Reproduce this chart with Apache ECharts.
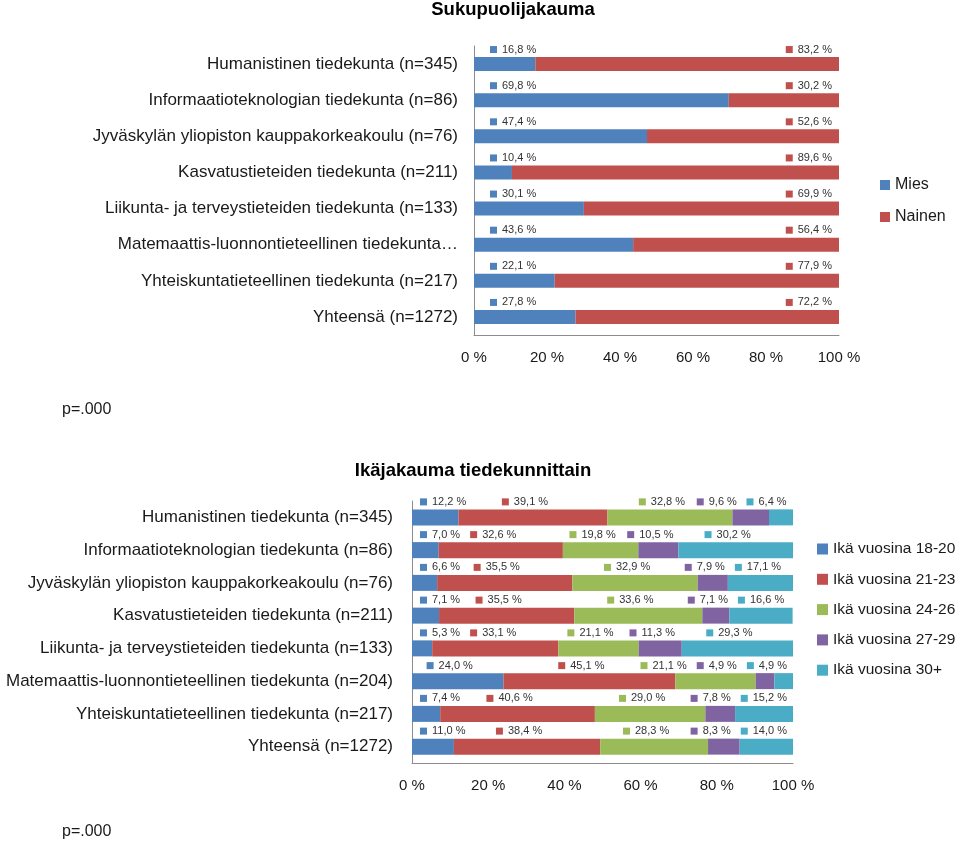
<!DOCTYPE html>
<html><head><meta charset="utf-8">
<script src="https://cdn.jsdelivr.net/npm/echarts@6/dist/echarts.min.js"></script>
<style>html,body{margin:0;padding:0;background:#fff}#c{width:960px;height:844px}</style>
</head><body><div id="c"></div>
<script>
// ---- data ----
const facultiesSex = [
  'Humanistinen tiedekunta (n=345)',
  'Informaatioteknologian tiedekunta (n=86)',
  'Jyväskylän yliopiston kauppakorkeakoulu (n=76)',
  'Kasvatustieteiden tiedekunta (n=211)',
  'Liikunta- ja terveystieteiden tiedekunta (n=133)',
  'Matemaattis-luonnontieteellinen tiedekunta…',
  'Yhteiskuntatieteellinen tiedekunta (n=217)',
  'Yhteensä (n=1272)'
];
const sexNames = ['Mies', 'Nainen'];
const mies   = [16.8, 69.8, 47.4, 10.4, 30.1, 43.6, 22.1, 27.8];
const nainen = [83.2, 30.2, 52.6, 89.6, 69.9, 56.4, 77.9, 72.2];

const facultiesAge = [
  'Humanistinen tiedekunta (n=345)',
  'Informaatioteknologian tiedekunta (n=86)',
  'Jyväskylän yliopiston kauppakorkeakoulu (n=76)',
  'Kasvatustieteiden tiedekunta (n=211)',
  'Liikunta- ja terveystieteiden tiedekunta (n=133)',
  'Matemaattis-luonnontieteellinen tiedekunta (n=204)',
  'Yhteiskuntatieteellinen tiedekunta (n=217)',
  'Yhteensä (n=1272)'
];
const ageNames = ['Ikä vuosina 18-20', 'Ikä vuosina 21-23', 'Ikä vuosina 24-26', 'Ikä vuosina 27-29', 'Ikä vuosina 30+'];
const age18_20 = [12.2, 7.0, 6.6, 7.1, 5.3, 24.0, 7.4, 11.0];
const age21_23 = [39.1, 32.6, 35.5, 35.5, 33.1, 45.1, 40.6, 38.4];
const age24_26 = [32.8, 19.8, 32.9, 33.6, 21.1, 21.1, 29.0, 28.3];
const age27_29 = [9.6, 10.5, 7.9, 7.1, 11.3, 4.9, 7.8, 8.3];
const age30    = [6.4, 30.2, 17.1, 16.6, 29.3, 4.9, 15.2, 14.0];

const titleSex = 'Sukupuolijakauma';
const titleAge = 'Ikäjakauma tiedekunnittain';
const pText = 'p=.000';

// ---- styling ----
const FONT = '"Liberation Sans", Arial, sans-serif';
const TXT = '#1a1a1a';
const AXIS = '#8c8c8c';
const COLORS_SEX = ['#4F81BD', '#C0504D'];
const COLORS_AGE = ['#4F81BD', '#C0504D', '#9BBB59', '#8064A2', '#4BACC6'];
const ageData = [age18_20, age21_23, age24_26, age27_29, age30];

function fmt(v) { return v.toFixed(1).replace('.', ',') + ' %'; }

const mctx = document.createElement('canvas').getContext('2d');
mctx.font = '11px "Liberation Sans"';
const SQ = 7, SQGAP = 5;
function labelW(v) { return SQ + SQGAP + mctx.measureText(fmt(v)).width; }

function makeLabel(color) {
  return {
    show: true,
    formatter: p => '{sq| }{v|' + fmt(p.value) + '}',
    rich: {
      sq: { width: SQ, height: SQ, backgroundColor: color },
      v: { padding: [0, 0, 0, SQGAP], fontSize: 11, fontFamily: FONT, color: '#333' }
    }
  };
}

function sexLayout(params) {
  const r = params.rect;
  if (params.seriesIndex === 0) return { x: r.x + 16, y: r.y - 2, align: 'left', verticalAlign: 'bottom' };
  return { x: r.x + r.width - 7, y: r.y - 2, align: 'right', verticalAlign: 'bottom' };
}

function ageLayout(params) {
  const row = params.dataIndex, s = params.seriesIndex - 2;
  const vals = ageData.map(a => a[row]);
  const rect = params.rect;
  const scale = rect.width / vals[s];
  let cum = 0;
  for (let k = 0; k < s; k++) cum += vals[k];
  const left = rect.x - cum * scale;
  const right = left + 100 * scale;
  const gap = 10;
  const w = vals.map(labelW);
  const pos = [];
  let c = 0;
  for (let k = 0; k < vals.length; k++) {
    let p = left + (c + vals[k] / 2) * scale - w[k] / 2 - 8;
    c += vals[k];
    if (k === 0) p = Math.max(p, left + 8);
    else p = Math.max(p, pos[k - 1] + w[k - 1] + gap);
    pos.push(p);
  }
  const n = vals.length - 1;
  if (pos[n] + w[n] > right - 6) pos[n] = right - 6 - w[n];
  for (let k = n - 1; k >= 0; k--) pos[k] = Math.min(pos[k], pos[k + 1] - gap - w[k]);
  return { x: pos[s], y: rect.y - 2, align: 'left', verticalAlign: 'bottom' };
}

const series = [];
[mies, nainen].forEach((arr, i) => {
  series.push({
    name: sexNames[i], type: 'bar', stack: 'sex', xAxisIndex: 0, yAxisIndex: 0,
    data: arr, barWidth: 14, itemStyle: { color: COLORS_SEX[i] },
    label: makeLabel(COLORS_SEX[i]), labelLayout: sexLayout
  });
});
ageData.forEach((arr, i) => {
  series.push({
    name: ageNames[i], type: 'bar', stack: 'age', xAxisIndex: 1, yAxisIndex: 1,
    data: arr, barWidth: 16, itemStyle: { color: COLORS_AGE[i] },
    label: makeLabel(COLORS_AGE[i]), labelLayout: ageLayout
  });
});

function xAxis(gi) {
  return {
    type: 'value', gridIndex: gi, min: 0, max: 100, interval: 20,
    axisLine: { show: true, lineStyle: { color: AXIS, width: 1 } },
    axisTick: { show: false }, splitLine: { show: false },
    axisLabel: { formatter: '{value} %', fontSize: 15, fontFamily: FONT, color: TXT, margin: 15 }
  };
}
function yAxis(gi, cats, margin) {
  return {
    type: 'category', gridIndex: gi, data: cats, inverse: true,
    axisLine: { show: true, lineStyle: { color: AXIS, width: 1 } },
    axisTick: { show: false },
    axisLabel: { fontSize: 17, fontFamily: FONT, color: TXT, margin: margin }
  };
}

const chart = echarts.init(document.getElementById('c'), null, { renderer: 'canvas' });
chart.setOption({
  animation: false,
  backgroundColor: '#fff',
  title: [
    { text: titleSex, left: 513, top: 0, textAlign: 'center', padding: 0,
      textStyle: { fontSize: 18.5, fontWeight: 'bold', fontFamily: FONT, color: '#000' } },
    { text: titleAge, left: 473, top: 461, textAlign: 'center', padding: 0,
      textStyle: { fontSize: 18.5, fontWeight: 'bold', fontFamily: FONT, color: '#000' } }
  ],
  grid: [
    { left: 474, top: 46, width: 365, height: 289, containLabel: false, outerBoundsMode: 'none' },
    { left: 412, top: 501, width: 381, height: 262, containLabel: false, outerBoundsMode: 'none' }
  ],
  xAxis: [xAxis(0), xAxis(1)],
  yAxis: [yAxis(0, facultiesSex, 16), yAxis(1, facultiesAge, 19)],
  legend: [
    { data: sexNames, orient: 'vertical', left: 880, top: 177, padding: 0,
      itemWidth: 10, itemHeight: 10, itemGap: 16, icon: 'rect', selectedMode: false,
      textStyle: { fontSize: 16, lineHeight: 16, fontFamily: FONT, color: TXT } },
    { data: ageNames, orient: 'vertical', left: 817, top: 541, padding: 0,
      itemWidth: 11, itemHeight: 11, itemGap: 14.3, icon: 'rect', selectedMode: false,
      textStyle: { fontSize: 15.5, lineHeight: 15, fontFamily: FONT, color: TXT } }
  ],
  graphic: [
    { type: 'text', left: 62, top: 402, style: { text: pText, fontSize: 16, fontFamily: FONT, fill: TXT } },
    { type: 'text', left: 62, top: 824, style: { text: pText, fontSize: 16, fontFamily: FONT, fill: TXT } }
  ],
  series: series
});
</script>
</body></html>
